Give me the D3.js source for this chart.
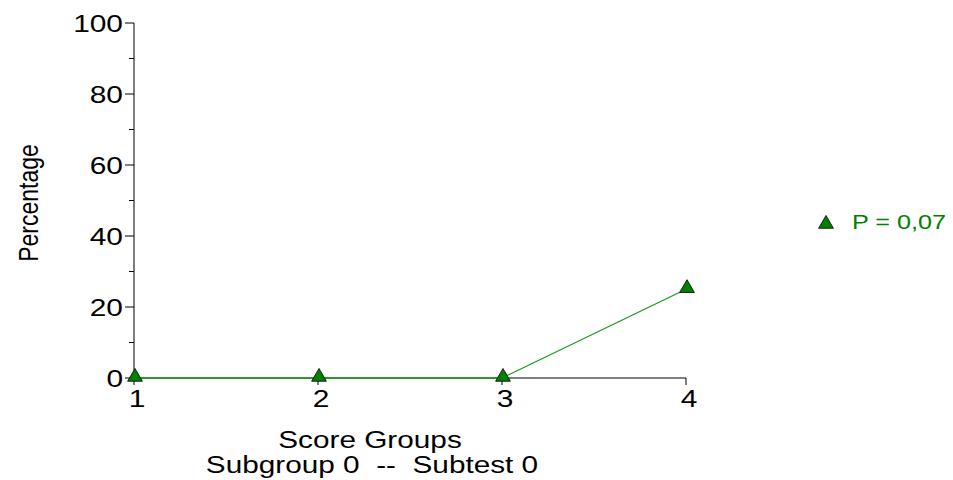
<!DOCTYPE html>
<html><head><meta charset="utf-8">
<script src="https://cdn.jsdelivr.net/npm/d3@7"></script>
<style>body{margin:0;background:#fff}svg{display:block}text{font-family:"Liberation Sans",Arial,sans-serif;white-space:pre}</style>
</head><body>
<svg id="c" width="953" height="480"></svg>
<script>
const categories = [1, 2, 3, 4];
const values = [0, 0, 0, 25];
const yTicks = [0, 20, 40, 60, 80, 100];
const yMinorTicks = [10, 30, 50, 70, 90];
const seriesLabel = "P = 0,07";
const xTitle = "Score Groups";
const subTitle = "Subgroup 0  --  Subtest 0";
const yTitle = "Percentage";

const svg = d3.select("#c");
const x = d3.scaleLinear().domain([1, 4]).range([134, 686]);
const y = d3.scaleLinear().domain([0, 100]).range([378, 23]);
const SX = 1.3;

function stext(g, px, py, sx, txt, size, anchor, fill) {
  return g.append("text").attr("transform", `translate(${px},${py}) scale(${sx},1)`)
    .attr("xml:space", "preserve")
    .attr("text-anchor", anchor).attr("font-size", size).attr("fill", fill || "#000").text(txt);
}

// y axis
const ya = svg.append("g").attr("transform", "translate(134,0)");
ya.append("line").attr("y1", y(0)).attr("y2", y(100)).attr("stroke", "#000");
ya.selectAll(".mj").data(yTicks).enter().append("line")
  .attr("x1", -9).attr("x2", 0).attr("y1", d => y(d)).attr("y2", d => y(d)).attr("stroke", "#000");
ya.selectAll(".mn").data(yMinorTicks).enter().append("line")
  .attr("x1", -5).attr("x2", 0).attr("y1", d => y(d)).attr("y2", d => y(d)).attr("stroke", "#000");
yTicks.forEach(d => stext(ya, -11, y(d) + 9, SX, d, 23, "end"));

// x axis
const xa = svg.append("g");
xa.append("line").attr("x1", x(1)).attr("x2", x(4)).attr("y1", y(0)).attr("y2", y(0)).attr("stroke", "#000");
xa.selectAll(".t").data(categories).enter().append("line")
  .attr("x1", d => x(d)).attr("x2", d => x(d)).attr("y1", y(0)).attr("y2", y(0) + 7).attr("stroke", "#000");
categories.forEach(d => stext(xa, x(d) + 3, 407, SX, d, 23, "middle"));

// titles
stext(svg, 370, 448, 1.24, xTitle, 24, "middle");
stext(svg, 372, 473, 1.24, subTitle, 24, "middle");
svg.append("text").attr("transform", "translate(38,203) scale(1.2,1) rotate(-90)").attr("text-anchor", "middle")
  .attr("font-size", 23).text(yTitle);

// series
const line = d3.line().x((d, i) => x(categories[i])).y(d => y(d));
svg.append("path").datum(values).attr("d", line).attr("fill", "none").attr("stroke", "#1a9a1a").attr("stroke-width", 1.3);
const tri = d3.symbol().type(d3.symbolTriangle).size(95);
svg.selectAll(".pt").data(values).enter().append("path")
  .attr("d", tri).attr("transform", (d, i) => `translate(${x(categories[i]) + 1},${y(d) - 1})`)
  .attr("fill", "#008000").attr("stroke", "#000").attr("stroke-width", 0.8);

// legend
svg.append("path").attr("d", tri).attr("transform", "translate(826,224)")
  .attr("fill", "#008000").attr("stroke", "#000").attr("stroke-width", 0.8);
stext(svg, 852, 229, 1.2, seriesLabel, 21, "start", "#008000");
</script>
</body></html>
